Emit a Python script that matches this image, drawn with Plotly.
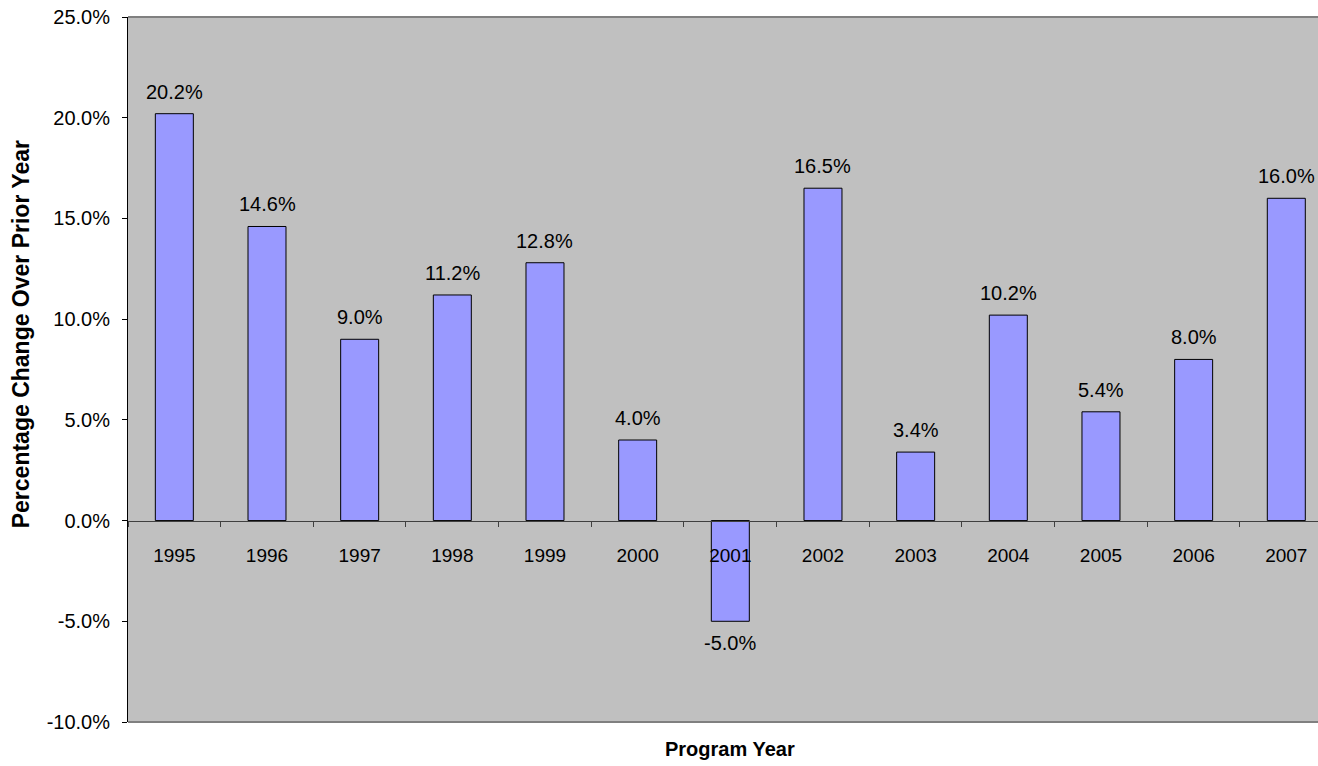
import plotly.graph_objects as go

# Program years and year-over-year percentage change
years = ["1995", "1996", "1997", "1998", "1999", "2000", "2001",
         "2002", "2003", "2004", "2005", "2006", "2007"]
pct_change = [20.2, 14.6, 9.0, 11.2, 12.8, 4.0, -5.0, 16.5, 3.4, 10.2, 5.4, 8.0, 16.0]

y_ticks = [-10, -5, 0, 5, 10, 15, 20, 25]
y_tick_text = ["-10.0%", "-5.0%", "0.0%", "5.0%", "10.0%", "15.0%", "20.0%", "25.0%"]

FONT = "Liberation Sans, Arial, sans-serif"
Y_MIN, Y_MAX = -10, 25

fig = go.Figure()
fig.add_trace(go.Bar(
    x=years,
    y=pct_change,
    width=0.41,
    marker=dict(color="#9999FF", line=dict(color="#000000", width=1)),
    hoverinfo="x+y",
))

# value labels above (or below) each bar; x given as category index
for i, v in enumerate(pct_change):
    label = f"{v:.1f}" + "\u0025"
    fig.add_annotation(
        x=i, y=v, text=label, showarrow=False,
        yshift=22 if v >= 0 else -22,
        font=dict(family=FONT, size=20, color="#000000"),
    )

# axis titles
fig.add_annotation(
    x=0.506, y=-0.038, xref="paper", yref="paper", yanchor="middle",
    text="<b>Program Year</b>", showarrow=False,
    font=dict(family=FONT, size=20, color="#000000"),
)
fig.add_annotation(
    x=-0.0899, y=0.55, xref="paper", yref="paper", textangle=-90,
    xanchor="center", yanchor="middle",
    text="<b>Percentage Change Over Prior Year</b>", showarrow=False,
    font=dict(family=FONT, size=23, color="#000000"),
)

# plot-area border lines (top and bottom)
for yy in (0, 1):
    fig.add_shape(type="line", xref="paper", yref="paper",
                  x0=0, x1=1, y0=yy, y1=yy,
                  line=dict(color="#808080", width=2))

zero_frac = (0 - Y_MIN) / (Y_MAX - Y_MIN)

fig.update_layout(
    width=1318, height=766,
    margin=dict(l=128, r=0, t=17, b=44),
    paper_bgcolor="#FFFFFF",
    plot_bgcolor="#C0C0C0",
    showlegend=False,
    font=dict(family=FONT, size=19, color="#000000"),
    xaxis=dict(
        type="category",
        range=[-0.5, 12.342],
        anchor="free", position=zero_frac,
        showline=True, linecolor="#404040", linewidth=1,
        ticks="outside", ticklen=5, tickcolor="#404040",
        tickson="boundaries",
        ticklabelstandoff=18,
        showgrid=False, zeroline=False,
        tickfont=dict(family=FONT, size=19, color="#000000"),
    ),
    yaxis=dict(
        range=[Y_MIN, Y_MAX],
        tickvals=y_ticks,
        ticktext=y_tick_text,
        showline=True, linecolor="#000000", linewidth=1,
        ticks="outside", ticklen=5, tickcolor="#000000",
        ticklabelstandoff=8,
        showgrid=False, zeroline=False,
        tickfont=dict(family=FONT, size=20, color="#000000"),
    ),
)

fig.write_html("out.html")
